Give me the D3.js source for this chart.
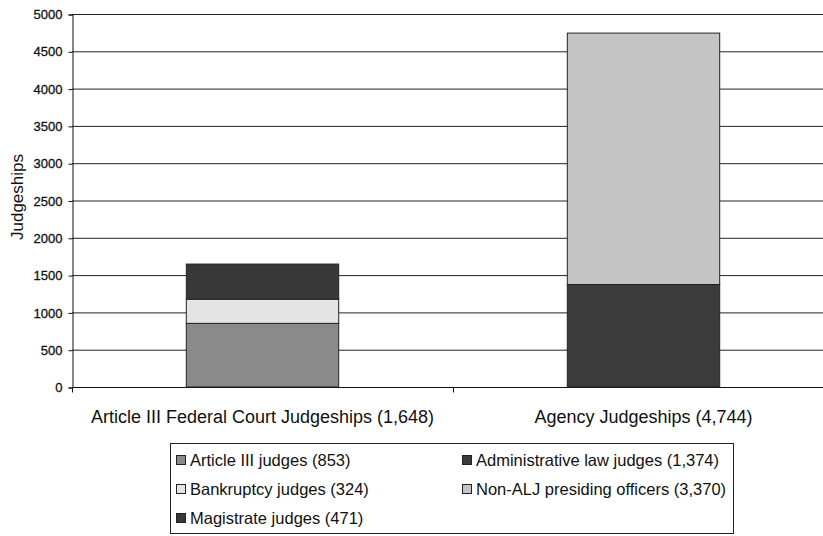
<!DOCTYPE html>
<html>
<head>
<meta charset="utf-8">
<script src="https://cdn.jsdelivr.net/npm/d3@7"></script>
<style>
  body { margin: 0; background: #fff; }
  text { font-family: "Liberation Sans", Arial, sans-serif; fill: #111; }
</style>
</head>
<body>
<div id="chart"></div>
<script>
// stacked judgeship counts

var categories = ["Article III Federal Court Judgeships (1,648)", "Agency Judgeships (4,744)"];
var seriesNames = ["Article III judges (853)", "Bankruptcy judges (324)", "Magistrate judges (471)",
                   "Administrative law judges (1,374)", "Non-ALJ presiding officers (3,370)"];
var seriesKeys = ["art3", "bankr", "magis", "alj", "nonalj"];
var art3 = [853, 0];
var bankr = [324, 0];
var magis = [471, 0];
var alj = [0, 1374];
var nonalj = [0, 3370];
var yTicks = [0, 500, 1000, 1500, 2000, 2500, 3000, 3500, 4000, 4500, 5000];

var colors = {art3: "#8a8a8a", bankr: "#e4e4e4", magis: "#383838", alj: "#3b3b3b", nonalj: "#c4c4c4"};

var width = 823, height = 536;

var svg = d3.select("#chart").append("svg")
    .attr("width", width)
    .attr("height", height);

var x = d3.scaleBand()
    .domain(categories)
    .range([72, 834])          // plot runs off the right edge in the scan
    .paddingInner(0.6)
    .paddingOuter(0.3);

var y = d3.scaleLinear()
    .domain([0, 5000])
    .range([387, 14]);

var rows = categories.map(function(c, i) {
  return {cat: c, art3: art3[i], bankr: bankr[i], magis: magis[i], alj: alj[i], nonalj: nonalj[i]};
});
var stacked = d3.stack().keys(seriesKeys)(rows);

// gridlines
svg.selectAll("line.grid")
   .data(yTicks.slice(1))
   .enter().append("line")
   .attr("x1", 72).attr("x2", width)
   .attr("y1", function(d) { return y(d) + 0.5; })
   .attr("y2", function(d) { return y(d) + 0.5; })
   .attr("stroke", "#222")
   .attr("stroke-width", 1);

// y axis
var yAxis = svg.append("g")
   .attr("transform", "translate(72.5,0.5)")
   .call(d3.axisLeft(y).tickValues(yTicks).tickSize(4).tickPadding(6).tickFormat(d3.format("d")));
yAxis.select(".domain").attr("stroke", "#111");
yAxis.selectAll("line").attr("stroke", "#111");
yAxis.selectAll("text").attr("font-size", 13)
   .style("font-family", "Liberation Sans, Arial, sans-serif")
   .attr("fill", "#111").attr("stroke", "#111").attr("stroke-width", 0.3);

// x axis
var xAxis = svg.append("g")
   .attr("transform", "translate(0," + (y(0) + 0.5) + ")");
xAxis.append("line").attr("x1", 72).attr("x2", width).attr("stroke", "#111");
xAxis.selectAll("line.tk")
   .data([72, 72 + x.step()])
   .enter().append("line")
   .attr("x1", function(d) { return d + 0.5; }).attr("x2", function(d) { return d + 0.5; })
   .attr("y1", 0).attr("y2", 5)
   .attr("stroke", "#111");
xAxis.selectAll("text")
   .data(categories)
   .enter().append("text")
   .attr("x", function(d) { return x(d) + x.bandwidth() / 2; })
   .attr("y", 35)
   .attr("text-anchor", "middle")
   .attr("font-size", 18)
   .text(function(d) { return d; });

// bars
svg.selectAll("g.layer")
   .data(stacked)
   .enter().append("g")
   .attr("fill", function(d) { return colors[d.key]; })
   .selectAll("rect")
   .data(function(d) { return d.filter(function(v) { return v[1] > v[0]; }); })
   .enter().append("rect")
   .attr("x", function(d) { return x(d.data.cat); })
   .attr("y", function(d) { return y(d[1]); })
   .attr("width", x.bandwidth())
   .attr("height", function(d) { return y(d[0]) - y(d[1]); })
   .attr("stroke", "#222")
   .attr("stroke-width", 1);

// y title
svg.append("text")
   .attr("transform", "translate(23,197) rotate(-90)")
   .attr("text-anchor", "middle")
   .attr("font-size", 17)
   .text("Judgeships");

// legend
var legend = svg.append("g");
legend.append("rect")
   .attr("x", 170.5).attr("y", 443.5)
   .attr("width", 563).attr("height", 90)
   .attr("fill", "none").attr("stroke", "#222");

var legendPos = [[176, 466], [176, 495], [176, 524], [462, 466], [462, 495]];
var items = legend.selectAll("g.item")
   .data(seriesKeys)
   .enter().append("g")
   .attr("transform", function(d, i) { return "translate(" + legendPos[i][0] + "," + legendPos[i][1] + ")"; });
items.append("rect")
   .attr("x", 0.5).attr("y", -10.5).attr("width", 9).attr("height", 9)
   .attr("fill", function(d) { return colors[d]; })
   .attr("stroke", "#222");
items.append("text")
   .attr("x", 14).attr("y", 0)
   .attr("font-size", 16.5)
   .text(function(d, i) { return seriesNames[i]; });
</script>
</body>
</html>
